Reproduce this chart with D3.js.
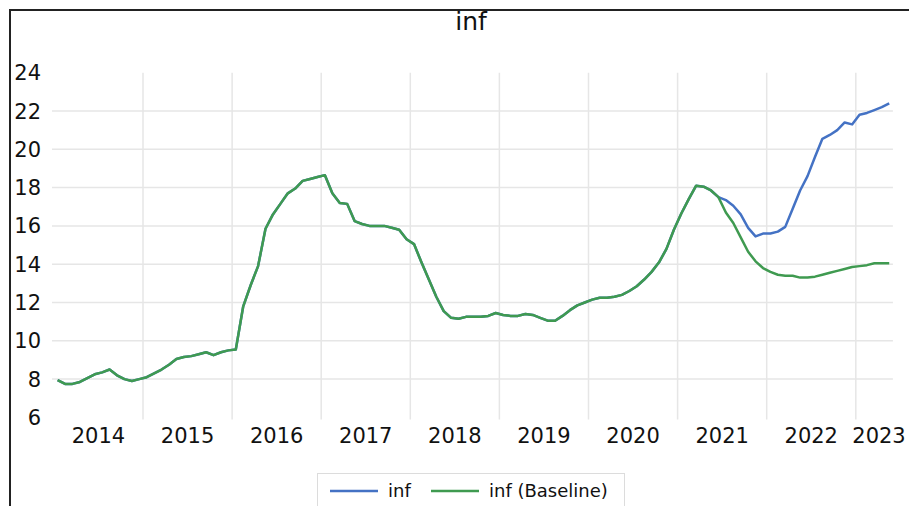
<!DOCTYPE html>
<html>
<head>
<meta charset="utf-8">
<script src="https://cdn.jsdelivr.net/npm/d3@7"></script>
<style>
  body { margin: 0; background: #fff; }
  svg { display: block; }
  text { font-family: "DejaVu Sans", Verdana, sans-serif; fill: #111; }
</style>
</head>
<body>
<svg id="chart" width="909" height="506"></svg>
<script>
// monthly observations, 2014M01 .. 2023M05
var startYear = 2014;
var years = [2014, 2015, 2016, 2017, 2018, 2019, 2020, 2021, 2022, 2023];
var yTicks = [6, 8, 10, 12, 14, 16, 18, 20, 22, 24];

var infBaseline = [
  7.95, 7.75, 7.75, 7.85, 8.05, 8.25, 8.35, 8.5, 8.2, 8.0, 7.9, 8.0,
  8.1, 8.3, 8.5, 8.75, 9.05, 9.15, 9.2, 9.3, 9.4, 9.25, 9.4, 9.5,
  9.55, 11.8, 12.9, 13.9, 15.85, 16.6, 17.15, 17.7, 17.95, 18.35, 18.45, 18.55,
  18.65, 17.7, 17.2, 17.15, 16.25, 16.1, 16.0, 16.0, 16.0, 15.9, 15.8, 15.3,
  15.05, 14.1, 13.2, 12.3, 11.55, 11.2, 11.15, 11.25, 11.25, 11.25, 11.3, 11.45,
  11.35, 11.3, 11.3, 11.4, 11.35, 11.2, 11.05, 11.05, 11.3, 11.6, 11.85, 12.0,
  12.15, 12.25, 12.25, 12.3, 12.4, 12.6, 12.85, 13.2, 13.6, 14.1, 14.8, 15.8,
  16.65, 17.4, 18.1, 18.05, 17.85, 17.5, 16.7, 16.15, 15.4, 14.65, 14.15, 13.8,
  13.6, 13.45, 13.4, 13.4, 13.3, 13.3, 13.35, 13.45, 13.55, 13.65, 13.75, 13.85,
  13.9, 13.95, 14.05, 14.05, 14.05
];

// scenario path from 2021M07 on (earlier months equal the baseline)
var splitIndex = 90;
var infScenario = [
  17.35, 17.05, 16.6, 15.9, 15.45, 15.6,
  15.6, 15.7, 15.95, 16.9, 17.85, 18.6, 19.6, 20.55, 20.75, 21.0, 21.4, 21.3,
  21.8, 21.9, 22.05, 22.2, 22.4
];
var inf = infBaseline.slice(0, splitIndex).concat(infScenario);

var seriesNames = ["inf", "inf (Baseline)"];
var colors = ["#4472c4", "#3f9a50"];

var svg = d3.select("#chart");

// outer frame
svg.append("rect")
  .attr("x", 10).attr("y", 10)
  .attr("width", 960).attr("height", 560)
  .attr("fill", "none")
  .attr("stroke", "#222")
  .attr("stroke-width", 2);

svg.append("text")
  .attr("x", 471).attr("y", 30)
  .attr("text-anchor", "middle")
  .style("font-size", "25px")
  .text("inf");

var nObs = infBaseline.length;
var x = d3.scaleLinear()
  .domain([startYear, startYear + nObs / 12])
  .range([53.9, 53.9 + 89.1 * nObs / 12]);

var y = d3.scaleLinear()
  .domain([6, 24])
  .range([417.4, 72.7]);

function tOf(i) { return startYear + (i + 0.5) / 12; }

// grid
var grid = svg.append("g").attr("stroke", "#e6e6e6").attr("stroke-width", 1.5);
grid.selectAll(".hg")
  .data(yTicks.filter(function (d) { return d > 6 && d < 24; }))
  .enter().append("line")
  .attr("x1", 52).attr("x2", x.range()[1])
  .attr("y1", function (d) { return y(d); })
  .attr("y2", function (d) { return y(d); });
grid.selectAll(".vg")
  .data(years.slice(1))
  .enter().append("line")
  .attr("x1", function (d) { return x(d); })
  .attr("x2", function (d) { return x(d); })
  .attr("y1", y(24)).attr("y2", y(6) + 2);

// y labels
svg.append("g").selectAll("text")
  .data(yTicks)
  .enter().append("text")
  .attr("x", 41)
  .attr("y", function (d) { return y(d); })
  .attr("dy", "0.36em")
  .attr("text-anchor", "end")
  .style("font-size", "21px")
  .text(function (d) { return d; });

// x labels, centred in each year (last one kept inside the picture)
svg.append("g").selectAll("text")
  .data(years)
  .enter().append("text")
  .attr("x", function (d) { return Math.min(x(d + 0.5), 879); })
  .attr("y", 443)
  .attr("text-anchor", "middle")
  .style("font-size", "21px")
  .text(function (d) { return d; });

var line = d3.line()
  .x(function (d, i) { return x(tOf(i)); })
  .y(function (d) { return y(d); });

svg.append("path")
  .datum(inf)
  .attr("d", line)
  .attr("fill", "none")
  .attr("stroke", colors[0])
  .attr("stroke-width", 2.5)
  .attr("stroke-linejoin", "round");

svg.append("path")
  .datum(infBaseline)
  .attr("d", line)
  .attr("fill", "none")
  .attr("stroke", colors[1])
  .attr("stroke-width", 2.5)
  .attr("stroke-linejoin", "round");

// legend
var legend = svg.append("g");
legend.append("rect")
  .attr("x", 317.5).attr("y", 473.5)
  .attr("width", 307).attr("height", 60)
  .attr("fill", "#fff")
  .attr("stroke", "#dcdcdc");
var legendX = [330, 431];
seriesNames.forEach(function (name, k) {
  legend.append("line")
    .attr("x1", legendX[k]).attr("x2", legendX[k] + 48)
    .attr("y1", 491).attr("y2", 491)
    .attr("stroke", colors[k])
    .attr("stroke-width", 2.5);
  legend.append("text")
    .attr("x", legendX[k] + 58)
    .attr("y", 491)
    .attr("dy", "0.35em")
    .style("font-size", "18px")
    .text(name);
});
</script>
</body>
</html>
